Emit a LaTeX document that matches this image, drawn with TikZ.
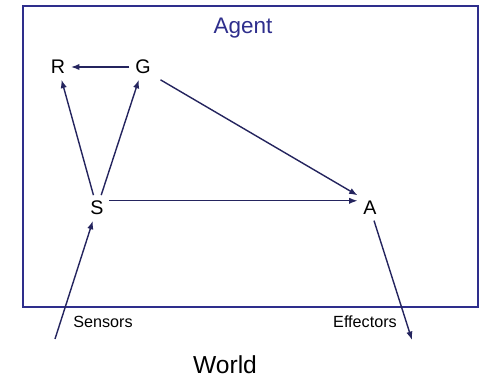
\documentclass[tikz,border=0pt]{standalone}
\usepackage{fontspec}
\setmainfont{Liberation Sans}
\usetikzlibrary{positioning,arrows.meta}
\definecolor{agentblue}{HTML}{2E2E8C}
\definecolor{linknavy}{HTML}{24245E}

\begin{document}
\begin{tikzpicture}[
    every node/.style={font=\fontsize{14}{16}\selectfont},
    state/.style={inner sep=0.14cm},
    link/.style={-{Latex[length=6pt,width=4.5pt]}, line width=1pt, color=linknavy},
    label/.style={font=\fontsize{11.5}{13}\selectfont},
]
\useasboundingbox (0,0) rectangle (12.025,9.45);

% --- Agent box ---
\draw[agentblue, line width=1.3pt] (0.575,1.775) rectangle (11.95,9.3);
\node[agentblue, font=\fontsize{16}{18}\selectfont] (agent) at (6.075,8.75) {Agent};

% --- Internal states ---
\node[state] (R) at (1.45,7.775) {R};
\node[state] (G) at (3.575,7.775) {G};
\node[state] (S) at (2.425,4.25) {S};
\node[state] (A) at (9.25,4.25) {A};

\draw[link] (G) -- (R);
\draw[link] (S) -- (R);
\draw[link] (S) -- (G);
\draw[link] ([xshift=0.1cm]G.south east) -- (A.north west);
\draw[link] ([yshift=0.18cm]S.east) -- ([yshift=0.18cm]A.west);

% --- Sensors and effectors to the world ---
\coordinate (sensin) at (1.375,0.975);
\coordinate (effout) at (10.3,0.95);
\draw[link] (sensin) -- (S);
\draw[link] (A) -- (effout);
\node[label] (sensors) at (2.575,1.4) {Sensors};
\node[label] (effectors) at (9.125,1.4) {Effectors};

\node[font=\fontsize{17.5}{20}\selectfont, inner sep=1pt, anchor=base] (world) at (5.625,0.1) {World};
\end{tikzpicture}
\end{document}
